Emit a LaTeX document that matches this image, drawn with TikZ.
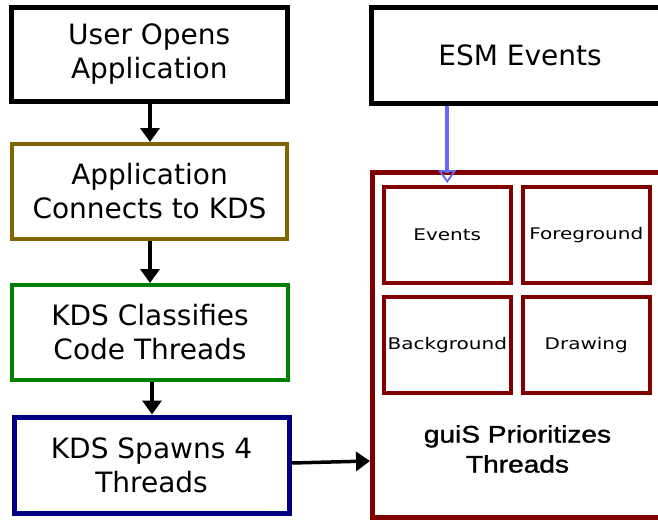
\documentclass[tikz,border=0pt]{standalone}
\usepackage{fontspec}
\usepackage{graphicx}
\setmainfont{DejaVu Sans}
\newfontfamily\guifont[FakeBold=1.2]{Liberation Sans}
\usetikzlibrary{arrows.meta}
\definecolor{olivebox}{RGB}{128,102,0}
\definecolor{greenbox}{RGB}{0,128,0}
\definecolor{navybox}{RGB}{0,0,128}
\definecolor{redbox}{RGB}{128,0,0}
\definecolor{esmblue}{RGB}{102,102,255}
\tikzset{
  flowbox/.style={draw, fill=white, align=center, inner sep=0pt,
    font=\fontsize{28}{34}\selectfont},
  threadbox/.style={draw=redbox, line width=4pt, fill=white, inner sep=0pt,
    minimum width=126.5pt, minimum height=96pt, font=\fontsize{16}{19}\selectfont},
  arr/.style={line width=3.5pt, -{Triangle[length=14pt,width=19pt]}},
  blueshaft/.style={draw=esmblue, line width=4pt, shorten >=10pt},
  bluetip/.style={draw=esmblue, line width=1.8pt,
    -{Triangle[open, length=13pt, width=18pt]}},
}
\newcommand{\wide}[1]{\scalebox{1.25}[1]{#1}}
\newcommand{\gwide}[1]{\scalebox{1.17}[1]{#1}}
\begin{document}
\begin{tikzpicture}[x=1pt,y=-1pt]
\clip (0,0) rectangle (658,522);
\fill[white] (0,0) rectangle (658,522);

% left column
\node[flowbox, line width=5pt, minimum width=275.5pt, minimum height=93.5pt]
  (open) at (149.25,54.25) {User Opens\\Application};
\node[flowbox, draw=olivebox, line width=4pt, minimum width=275pt, minimum height=95pt]
  (connect) at (149.5,191.5) {Application\\Connects to KDS};
\node[flowbox, draw=greenbox, line width=4pt, minimum width=276pt, minimum height=95pt]
  (classify) at (150,332.5) {KDS Classifies\\Code Threads};
\node[flowbox, draw=navybox, line width=5pt, minimum width=275pt, minimum height=96pt]
  (spawn) at (151.5,465) {KDS Spawns 4\\Threads};

% right column
\node[flowbox, line width=5pt, minimum width=297pt, minimum height=95.5pt]
  (esm) at (520,55.25) {ESM Events};
\node[draw=redbox, fill=white, line width=5pt, inner sep=0pt,
  minimum width=290pt, minimum height=345.5pt] (guis) at (517.5,344.75) {};
\node[threadbox] (events) at (447.25,235) {\wide{Events}};
\node[threadbox] (fore) at (586.25,235) {\wide{Foreground}};
\node[threadbox] (back) at (447.25,345.25) {\wide{Background}};
\node[threadbox] (drawing) at (586.25,345.25) {\wide{Drawing}};
\node[align=center, inner sep=0pt, font=\guifont\fontsize{24}{30}\selectfont]
  (guistext) at (517.5,449) {\gwide{guiS Prioritizes}\\\gwide{Threads}};

% connectors
\draw[arr] (open.south -| 150,0) -- (connect.north -| 150,0);
\draw[arr] (connect.south -| 150,0) -- (classify.north -| 150,0);
\draw[arr] (classify.south -| 152,0) -- (spawn.north -| 152,0);
\draw[arr] ([yshift=2pt]spawn.east) -- ([yshift=4pt]spawn.east -| guis.west);
\draw[blueshaft] (events |- esm.south) -- ([yshift=2pt]events.north);
\draw[bluetip] (events |- esm.south) -- ([yshift=2pt]events.north);
\end{tikzpicture}
\end{document}
